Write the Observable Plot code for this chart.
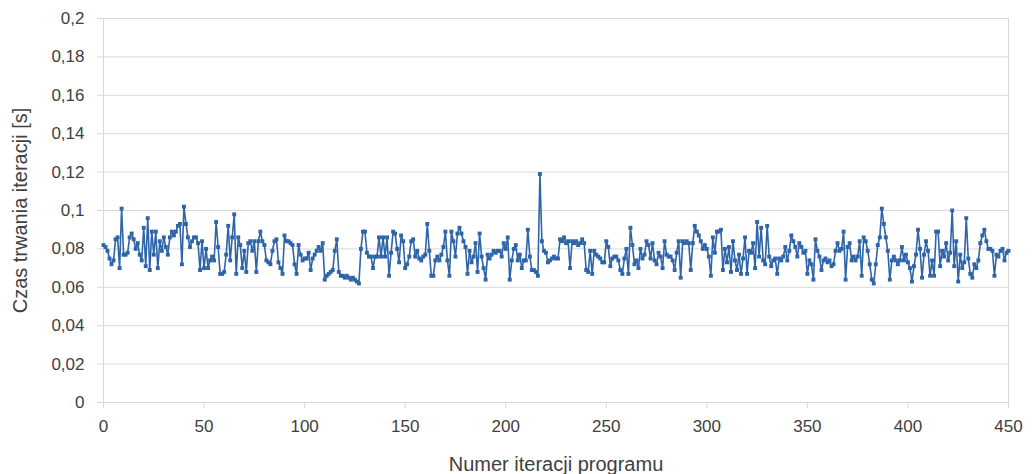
<!DOCTYPE html>
<html>
<head>
<meta charset="utf-8">
<script src="https://cdn.jsdelivr.net/npm/d3@7"></script>
<script src="https://cdn.jsdelivr.net/npm/@observablehq/plot@0.6"></script>
<style>
  html, body { margin: 0; padding: 0; background: #fff; }
</style>
</head>
<body>
<div id="chart"></div>
<script>
// Iteration duration [s], iterations 0..450
const durations = [
  0.082,0.081,0.079,0.075,0.072,0.074,0.085,0.086,0.070,0.101,
  0.077,0.077,0.078,0.086,0.088,0.085,0.080,0.083,0.077,0.074,
  0.091,0.071,0.096,0.069,0.089,0.077,0.089,0.070,0.084,0.079,
  0.086,0.081,0.077,0.086,0.089,0.087,0.089,0.092,0.093,0.072,
  0.102,0.093,0.086,0.081,0.084,0.086,0.086,0.083,0.069,0.084,
  0.070,0.080,0.070,0.074,0.076,0.074,0.094,0.081,0.067,0.067,
  0.068,0.077,0.092,0.074,0.086,0.098,0.067,0.086,0.082,0.070,
  0.079,0.068,0.083,0.084,0.079,0.084,0.068,0.084,0.089,0.084,
  0.082,0.074,0.073,0.072,0.079,0.084,0.085,0.073,0.070,0.067,
  0.087,0.084,0.084,0.083,0.082,0.072,0.067,0.082,0.077,0.074,
  0.075,0.075,0.078,0.069,0.075,0.077,0.079,0.081,0.079,0.083,
  0.064,0.066,0.067,0.068,0.069,0.079,0.085,0.068,0.066,0.066,
  0.065,0.066,0.065,0.064,0.065,0.064,0.063,0.062,0.080,0.089,
  0.089,0.078,0.076,0.076,0.070,0.076,0.076,0.086,0.076,0.086,
  0.076,0.086,0.066,0.078,0.089,0.088,0.080,0.073,0.087,0.084,
  0.070,0.072,0.076,0.084,0.085,0.076,0.079,0.075,0.074,0.076,
  0.077,0.093,0.079,0.066,0.066,0.074,0.076,0.074,0.077,0.081,
  0.089,0.074,0.066,0.089,0.084,0.076,0.088,0.091,0.088,0.084,
  0.081,0.067,0.079,0.073,0.076,0.083,0.068,0.088,0.076,0.070,
  0.064,0.077,0.075,0.077,0.079,0.078,0.079,0.079,0.076,0.083,
  0.080,0.086,0.064,0.074,0.080,0.082,0.074,0.077,0.070,0.074,
  0.074,0.090,0.076,0.069,0.069,0.068,0.066,0.119,0.084,0.079,
  0.078,0.073,0.074,0.075,0.076,0.075,0.075,0.085,0.084,0.086,
  0.083,0.084,0.070,0.084,0.083,0.084,0.082,0.083,0.085,0.083,
  0.069,0.068,0.079,0.067,0.079,0.077,0.076,0.075,0.073,0.073,
  0.084,0.081,0.071,0.075,0.076,0.076,0.074,0.069,0.067,0.075,
  0.080,0.067,0.091,0.082,0.072,0.074,0.070,0.080,0.075,0.077,
  0.084,0.082,0.075,0.083,0.074,0.072,0.078,0.076,0.070,0.084,
  0.077,0.076,0.076,0.074,0.069,0.078,0.084,0.065,0.084,0.083,
  0.084,0.083,0.069,0.083,0.092,0.089,0.087,0.084,0.080,0.082,
  0.080,0.076,0.066,0.086,0.078,0.089,0.089,0.090,0.069,0.080,
  0.073,0.081,0.068,0.084,0.074,0.069,0.077,0.067,0.075,0.086,
  0.067,0.079,0.078,0.083,0.070,0.094,0.076,0.091,0.074,0.072,
  0.092,0.076,0.071,0.074,0.075,0.067,0.075,0.074,0.076,0.081,
  0.074,0.079,0.087,0.084,0.081,0.076,0.083,0.081,0.078,0.079,
  0.067,0.074,0.072,0.064,0.085,0.079,0.076,0.069,0.074,0.075,
  0.073,0.074,0.071,0.072,0.079,0.083,0.079,0.080,0.089,0.064,
  0.081,0.083,0.074,0.076,0.074,0.076,0.084,0.066,0.086,0.084,
  0.079,0.072,0.064,0.062,0.072,0.082,0.086,0.101,0.093,0.086,
  0.079,0.064,0.074,0.076,0.074,0.072,0.074,0.081,0.074,0.077,
  0.073,0.070,0.063,0.071,0.077,0.090,0.080,0.065,0.077,0.084,
  0.079,0.066,0.074,0.066,0.089,0.089,0.071,0.079,0.076,0.083,
  0.074,0.078,0.100,0.071,0.084,0.063,0.077,0.070,0.073,0.096,
  0.075,0.067,0.065,0.072,0.070,0.074,0.083,0.087,0.090,0.084,
  0.080,0.080,0.079,0.066,0.077,0.076,0.079,0.080,0.074,0.078,
  0.079
];
const yTicks = [0, 0.02, 0.04, 0.06, 0.08, 0.1, 0.12, 0.14, 0.16, 0.18, 0.2];
const xTicks = [0, 50, 100, 150, 200, 250, 300, 350, 400, 450];
const xLabel = "Numer iteracji programu";
const yLabel = "Czas trwania iteracji [s]";

const data = durations.map((v, i) => ({iter: i, t: v}));
const fmt = d => String(+d.toFixed(2)).replace(".", ",");
const grid = "#d9d9d9";
const blue = "#2e64a8";
const textColor = "#404040";

const chart = Plot.plot({
  width: 1032,
  height: 474,
  marginLeft: 103,
  marginRight: 24,
  marginTop: 18,
  marginBottom: 72,
  style: {fontFamily: "'Liberation Sans', Arial, sans-serif", fontSize: "17px", color: textColor, background: "#fff"},
  x: {domain: [0, 450]},
  y: {domain: [0, 0.2]},
  marks: [
    Plot.gridY(yTicks, {stroke: grid, strokeOpacity: 1}),
    Plot.ruleX([450], {stroke: grid}),
    Plot.ruleX([0], {stroke: grid}),
    Plot.axisY(yTicks, {
      tickFormat: fmt, tickSize: 6, tickPadding: 13, stroke: grid,
      label: null, fontSize: 17
    }),
    Plot.axisX(xTicks, {
      tickFormat: d => String(d), tickSize: 6, tickPadding: 11, stroke: grid,
      label: null, fontSize: 17
    }),
    Plot.text([yLabel], {
      frameAnchor: "left", dx: -83, rotate: -90, fontSize: 20,
      fill: textColor, textAnchor: "middle", lineAnchor: "middle"
    }),
    Plot.text([xLabel], {
      frameAnchor: "bottom", dy: 62, fontSize: 20,
      fill: textColor, textAnchor: "middle", lineAnchor: "middle"
    }),
    Plot.line(data, {x: "iter", y: "t", stroke: blue, strokeWidth: 1.6}),
    Plot.dot(data, {x: "iter", y: "t", symbol: "square", r: 2.2, fill: blue, stroke: null})
  ]
});
document.getElementById("chart").appendChild(chart);
</script>
</body>
</html>
